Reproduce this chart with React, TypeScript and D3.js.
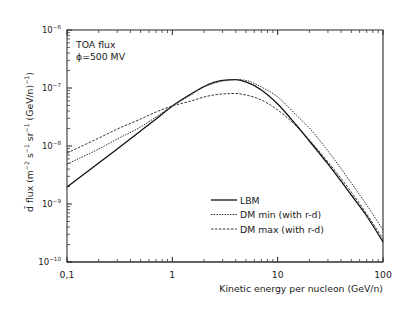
import React from 'react'
import * as d3 from 'd3'

// kinetic energy per nucleon (GeV/n)
const energy = [0.1, 0.2, 0.3, 0.5, 0.7, 1, 1.5, 2, 3, 4, 5, 7, 10, 15, 20, 30, 50, 70, 100]
// antideuteron flux
const lbm = [1.96e-9, 5.09e-9, 8.87e-9, 1.82e-8, 2.92e-8, 4.9e-8, 7.89e-8, 1.06e-7, 1.35e-7, 1.4e-7, 1.27e-7, 9.24e-8, 5.3e-8, 2.3e-8, 1.22e-8, 4.9e-9, 1.43e-9, 6.21e-10, 2.21e-10]
const dmMin = [4.9e-9, 8.87e-9, 1.32e-8, 2.13e-8, 3.16e-8, 4.9e-8, 7.57e-8, 1.04e-7, 1.32e-7, 1.4e-7, 1.35e-7, 1.04e-7, 7.0e-8, 3.42e-8, 2.04e-8, 8.2e-9, 2.3e-9, 9.62e-10, 3.56e-10]
const dmMax = [7.57e-9, 1.37e-8, 1.96e-8, 2.92e-8, 3.86e-8, 4.9e-8, 5.97e-8, 7.0e-8, 7.89e-8, 8.04e-8, 7.57e-8, 6.21e-8, 4.18e-8, 2.21e-8, 1.27e-8, 5.3e-9, 1.61e-9, 6.73e-10, 2.49e-10]

const xTickVals = [0.1, 1, 10, 100]
const xTickLabels = ['0,1', '1', '10', '100']
const yExponents = [-6, -7, -8, -9, -10]

const series = [
  { name: 'LBM', values: lbm, dash: null, width: 1.3, color: '#111' },
  { name: 'DM min (with r-d)', values: dmMin, dash: '1.5,1.2', width: 1, color: '#333' },
  { name: 'DM max (with r-d)', values: dmMax, dash: '2.5,1.5', width: 1, color: '#333' },
]

export default function App() {
  const W = 415, H = 320
  const m = { left: 67, right: 32, top: 30, bottom: 58 }
  const x = d3.scaleLog().domain([0.1, 100]).range([m.left, W - m.right])
  const y = d3.scaleLog().domain([1e-10, 1e-6]).range([H - m.bottom, m.top])
  const line = d3.line<number>().curve(d3.curveMonotoneX)

  const minorX: number[] = []
  for (let d = -1; d < 2; d++) for (let k = 2; k < 10; k++) minorX.push(k * Math.pow(10, d))
  const minorY: number[] = []
  for (let d = -10; d < -6; d++) for (let k = 2; k < 10; k++) minorY.push(k * Math.pow(10, d))

  const x0 = x(0.1), x1 = x(100), yb = y(1e-10), yt = y(1e-6)
  const font = 'DejaVu Sans, Verdana, sans-serif'
  const fs = 9.3, sup = 6.2

  return (
    <svg width={W} height={H} style={{ position: 'absolute', left: 0, top: 0, background: '#fff' }} fontFamily={font}>
      {/* frame */}
      <rect x={x0} y={yt} width={x1 - x0} height={yb - yt} fill="none" stroke="#222" strokeWidth={1} />
      <line x1={x1} x2={x1} y1={yt} y2={yb} stroke="#888" strokeWidth={1.5} />
      <line x1={x0} x2={x1} y1={yb} y2={yb} stroke="#555" strokeWidth={1.5} />

      {/* x ticks, bottom and top */}
      {xTickVals.map(v => (
        <g key={'xt' + v}>
          <line x1={x(v)} x2={x(v)} y1={yb} y2={yb - 5} stroke="#222" />
          <line x1={x(v)} x2={x(v)} y1={yt} y2={yt + 5} stroke="#222" />
        </g>
      ))}
      {minorX.map(v => (
        <g key={'xm' + v}>
          <line x1={x(v)} x2={x(v)} y1={yb} y2={yb - 3} stroke="#333" strokeWidth={0.8} />
          <line x1={x(v)} x2={x(v)} y1={yt} y2={yt + 3} stroke="#333" strokeWidth={0.8} />
        </g>
      ))}
      {xTickVals.map((v, i) => (
        <text key={'xl' + v} x={x(v)} y={yb + 16} fontSize={fs} textAnchor="middle" fill="#222">{xTickLabels[i]}</text>
      ))}

      {/* y ticks */}
      {yExponents.map(e => (
        <line key={'yt' + e} x1={x0} x2={x0 + 5} y1={y(Math.pow(10, e))} y2={y(Math.pow(10, e))} stroke="#222" />
      ))}
      {minorY.map(v => (
        <line key={'ym' + v} x1={x0} x2={x0 + 3} y1={y(v)} y2={y(v)} stroke="#333" strokeWidth={0.8} />
      ))}
      {yExponents.map(e => (
        <text key={'yl' + e} x={x0 - 6} y={y(Math.pow(10, e)) + 3} fontSize={fs - 0.8} textAnchor="end" fill="#222">
          10<tspan fontSize={sup - 0.6} dy={-4}>{'\u2212' + Math.abs(e)}</tspan>
        </text>
      ))}

      {/* curves */}
      {series.map(s => (
        <path key={s.name}
          d={line(energy.map((e, i) => [x(e), y(s.values[i])]) as any) || ''}
          fill="none" stroke={s.color} strokeWidth={s.width}
          strokeDasharray={s.dash || undefined} />
      ))}

      {/* annotation */}
      <text x={76} y={48} fontSize={fs} fill="#222">TOA flux</text>
      <text x={76} y={60} fontSize={fs} fill="#222">{'\u03D5=500 MV'}</text>

      {/* legend */}
      {series.map((s, i) => {
        const ly = 200 + i * 14.5
        return (
          <g key={'lg' + s.name}>
            <line x1={211} x2={237} y1={ly} y2={ly} stroke={s.color} strokeWidth={s.width}
              strokeDasharray={s.dash || undefined} />
            <text x={240} y={ly + 3.5} fontSize={fs} fill="#222">{s.name}</text>
          </g>
        )
      })}

      {/* axis titles */}
      <text x={x1} y={yb + 30} fontSize={fs} textAnchor="end" fill="#222">Kinetic energy per nucleon (GeV/n)</text>
      <text transform={`translate(33,${(yt + yb) / 2 - 4}) rotate(-90)`} fontSize={fs} textAnchor="middle" fill="#222">
        {'d\u0304 flux (m'}<tspan fontSize={sup} dy={-4}>{'\u22122'}</tspan>
        <tspan dy={4}>{' s'}</tspan><tspan fontSize={sup} dy={-4}>{'\u22121'}</tspan>
        <tspan dy={4}>{' sr'}</tspan><tspan fontSize={sup} dy={-4}>{'\u22121'}</tspan>
        <tspan dy={4}>{' (GeV/n)'}</tspan><tspan fontSize={sup} dy={-4}>{'\u22121'}</tspan>
        <tspan dy={4}>{')'}</tspan>
      </text>
    </svg>
  )
}
